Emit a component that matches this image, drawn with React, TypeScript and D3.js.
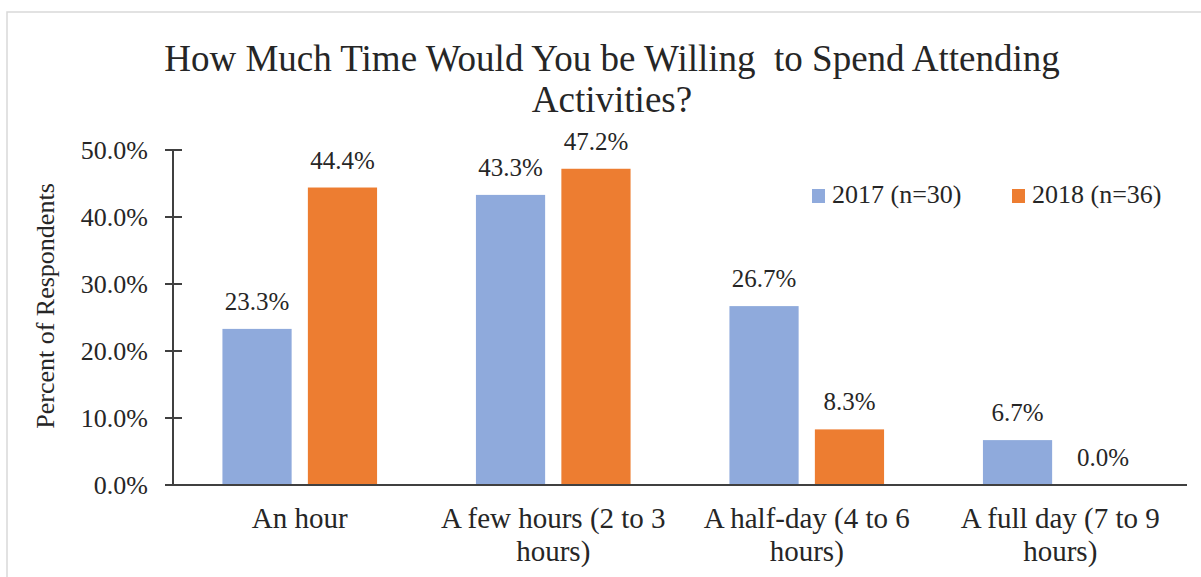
import React from "react";
import * as d3 from "d3";

const categories = [
  ["An hour"],
  ["A few hours (2 to 3", "hours)"],
  ["A half-day (4 to 6", "hours)"],
  ["A full day (7 to 9", "hours)"],
];
const seriesNames = ["2017 (n=30)", "2018 (n=36)"];
const values2017 = [23.3, 43.3, 26.7, 6.7];
const values2018 = [44.4, 47.2, 8.3, 0.0];
const yTicks = [0, 10, 20, 30, 40, 50];
const colors = ["#8FAADC", "#ED7D31"];

const W = 1201;
const H = 577;
const FONT = "'Liberation Serif', 'Times New Roman', serif";
const TEXT = "#262626";

export default function App() {
  const left = 173;
  const right = 1187;
  const y = d3.scaleLinear().domain([0, 50]).range([485, 150]);
  const x0 = d3
    .scaleBand<number>()
    .domain(d3.range(categories.length))
    .range([left, right])
    .paddingInner(0.39)
    .paddingOuter(0.195);
  const x1 = d3
    .scaleBand<number>()
    .domain([0, 1])
    .range([0, x0.bandwidth()])
    .paddingInner(0.19);
  const series = [values2017, values2018];

  return (
    <svg
      width={W}
      height={H}
      style={{ position: "absolute", left: 0, top: 0, background: "#fff" }}
      fontFamily={FONT}
    >
      <rect x={7} y={12} width={W} height={H} fill="#fff" stroke="#d9d9d9" strokeWidth={1.5} />
      <text x={612} y={71} textAnchor="middle" fontSize={37} fill={TEXT} style={{ whiteSpace: "pre" }}>
        {"How Much Time Would You be Willing  to Spend Attending"}
      </text>
      <text x={612} y={112} textAnchor="middle" fontSize={37} fill={TEXT}>
        Activities?
      </text>

      {/* y axis title */}
      <text
        transform={`translate(54,${306}) rotate(-90)`}
        textAnchor="middle"
        fontSize={26}
        fill={TEXT}
      >
        Percent of Respondents
      </text>

      {/* y ticks */}
      {yTicks.map((t) => (
        <g key={t}>
          <line x1={165} x2={182} y1={y(t)} y2={y(t)} stroke="#404040" strokeWidth={2} />
          <text x={148} y={y(t)} dy="0.35em" textAnchor="end" fontSize={26} fill={TEXT}>
            {d3.format(".1f")(t) + "%"}
          </text>
        </g>
      ))}
      <line x1={173} x2={173} y1={y(50)} y2={y(0)} stroke="#404040" strokeWidth={2} />

      {/* bars */}
      {categories.map((c, i) =>
        series.map((s, k) => {
          const bx = (x0(i) ?? 0) + (x1(k) ?? 0);
          const bw = x1.bandwidth();
          return (
            <g key={`${i}-${k}`}>
              <rect x={bx} y={y(s[i])} width={bw} height={y(0) - y(s[i])} fill={colors[k]} />
              <text
                x={bx + bw / 2}
                y={y(s[i]) - 19}
                textAnchor="middle"
                fontSize={25}
                fill={TEXT}
              >
                {d3.format(".1f")(s[i]) + "%"}
              </text>
            </g>
          );
        })
      )}
      <line x1={173} x2={right} y1={y(0)} y2={y(0)} stroke="#404040" strokeWidth={2} />

      {/* category labels */}
      {categories.map((c, i) => (
        <text
          key={i}
          x={(x0(i) ?? 0) + x0.bandwidth() / 2}
          y={528}
          textAnchor="middle"
          fontSize={29}
          fill={TEXT}
        >
          {c.map((line, j) => (
            <tspan key={j} x={(x0(i) ?? 0) + x0.bandwidth() / 2} dy={j === 0 ? 0 : 33}>
              {line}
            </tspan>
          ))}
        </text>
      ))}

      {/* legend */}
      {seriesNames.map((n, k) => {
        const lx = [812, 1012][k];
        return (
          <g key={n}>
            <rect x={lx} y={189} width={13} height={14} fill={colors[k]} />
            <text x={lx + 20} y={203} fontSize={26} fill={TEXT}>
              {n}
            </text>
          </g>
        );
      })}
    </svg>
  );
}
